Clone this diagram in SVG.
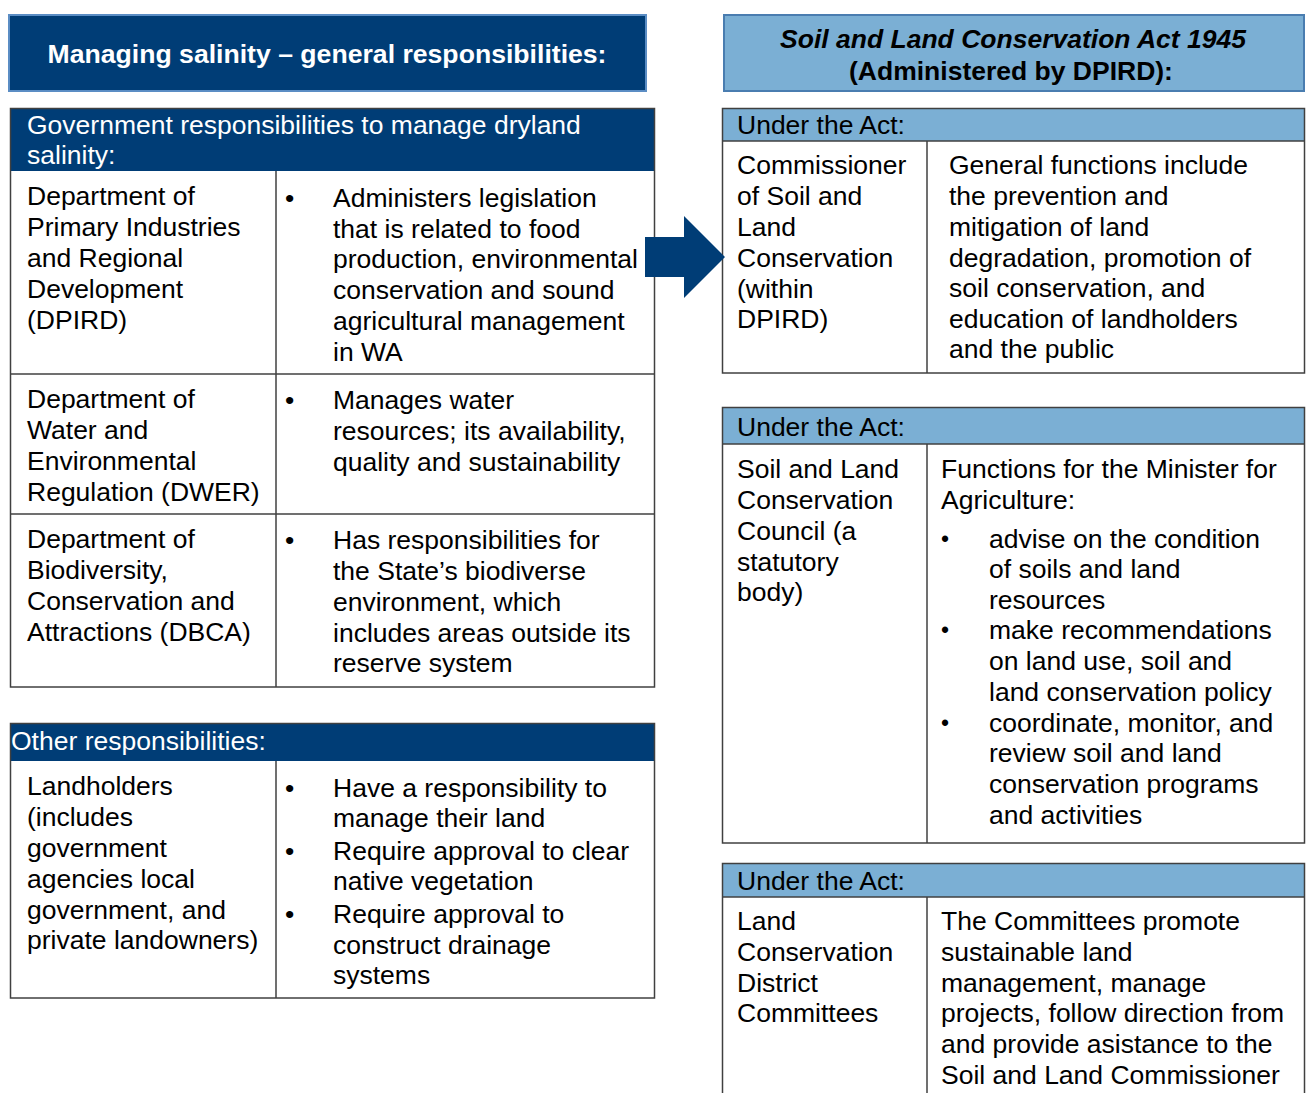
<svg xmlns="http://www.w3.org/2000/svg" width="1309" height="1093" viewBox="0 0 1309 1093">
  <style>
    text { font-family: "Liberation Sans", Arial, sans-serif; font-size: 26.5px; fill: #000; }
    .wh { fill: #fff; }
    .title { font-weight: bold; }
    .navy { fill: #003d76; }
    .sky { fill: #7bafd4; }
    .grid { fill: none; stroke: #404040; stroke-width: 1.5; }
    .sb { font-size: 23px; }
  </style>

  <rect width="1309" height="1093" fill="#fff"/>

  <!-- Left title banner -->
  <g id="title-left">
    <rect x="9" y="15" width="637" height="76" class="navy" stroke="#5b8dc4" stroke-width="2"/>
    <text x="327" y="63" text-anchor="middle" class="wh title" textLength="559" lengthAdjust="spacingAndGlyphs">Managing salinity – general responsibilities:</text>
  </g>

  <!-- Right title banner -->
  <g id="title-right">
    <rect x="724" y="15" width="580" height="76" class="sky" stroke="#4a7db0" stroke-width="2"/>
    <text x="1013" y="48" text-anchor="middle" class="title" font-style="italic">Soil and Land Conservation Act 1945</text>
    <text x="1011" y="80" text-anchor="middle" class="title">(Administered by DPIRD):</text>
  </g>

  <!-- Government responsibilities table -->
  <g id="table-government">
    <rect x="10.5" y="108.5" width="644" height="62.5" class="navy"/>
    <text x="27" y="134" class="wh">Government responsibilities to manage dryland</text>
    <text x="27" y="164" class="wh">salinity:</text>
    <rect x="10.5" y="108.5" width="644" height="578.5" class="grid"/>
    <line x1="276" y1="171" x2="276" y2="687" class="grid"/>
    <line x1="10.5" y1="374" x2="654.5" y2="374" class="grid"/>
    <line x1="10.5" y1="514" x2="654.5" y2="514" class="grid"/>

    <g id="row-dpird">
      <text x="27" y="205">Department of</text>
      <text x="27" y="236">Primary Industries</text>
      <text x="27" y="267">and Regional</text>
      <text x="27" y="298">Development</text>
      <text x="27" y="329">(DPIRD)</text>
      <text x="285" y="207">•</text>
      <text x="333" y="207">Administers legislation</text>
      <text x="333" y="238">that is related to food</text>
      <text x="333" y="268">production, environmental</text>
      <text x="333" y="299">conservation and sound</text>
      <text x="333" y="330">agricultural management</text>
      <text x="333" y="361">in WA</text>
    </g>

    <g id="row-dwer">
      <text x="27" y="408">Department of</text>
      <text x="27" y="439">Water and</text>
      <text x="27" y="470">Environmental</text>
      <text x="27" y="501">Regulation (DWER)</text>
      <text x="285" y="409">•</text>
      <text x="333" y="409">Manages water</text>
      <text x="333" y="440">resources; its availability,</text>
      <text x="333" y="471">quality and sustainability</text>
    </g>

    <g id="row-dbca">
      <text x="27" y="548">Department of</text>
      <text x="27" y="579">Biodiversity,</text>
      <text x="27" y="610">Conservation and</text>
      <text x="27" y="641">Attractions (DBCA)</text>
      <text x="285" y="549">•</text>
      <text x="333" y="549">Has responsibilities for</text>
      <text x="333" y="580">the State’s biodiverse</text>
      <text x="333" y="611">environment, which</text>
      <text x="333" y="642">includes areas outside its</text>
      <text x="333" y="672">reserve system</text>
    </g>
  </g>

  <!-- Other responsibilities table -->
  <g id="table-other">
    <rect x="10.5" y="723.5" width="644" height="37.5" class="navy"/>
    <text x="11" y="750" class="wh">Other responsibilities:</text>
    <rect x="10.5" y="723.5" width="644" height="274.5" class="grid"/>
    <line x1="276" y1="761" x2="276" y2="998" class="grid"/>

    <g id="row-landholders">
      <text x="27" y="795">Landholders</text>
      <text x="27" y="826">(includes</text>
      <text x="27" y="857">government</text>
      <text x="27" y="888">agencies local</text>
      <text x="27" y="919">government, and</text>
      <text x="27" y="949">private landowners)</text>
      <text x="285" y="797">•</text>
      <text x="333" y="797">Have a responsibility to</text>
      <text x="333" y="827">manage their land</text>
      <text x="285" y="860">•</text>
      <text x="333" y="860">Require approval to clear</text>
      <text x="333" y="890">native vegetation</text>
      <text x="285" y="923">•</text>
      <text x="333" y="923">Require approval to</text>
      <text x="333" y="954">construct drainage</text>
      <text x="333" y="984">systems</text>
    </g>
  </g>

  <!-- Commissioner table -->
  <g id="table-commissioner">
    <rect x="722.5" y="108.5" width="582" height="32.5" class="sky"/>
    <text x="737" y="134">Under the Act:</text>
    <rect x="722.5" y="108.5" width="582" height="264.5" class="grid"/>
    <line x1="722.5" y1="141" x2="1304.5" y2="141" class="grid"/>
    <line x1="927" y1="141" x2="927" y2="373" class="grid"/>
    <text x="737" y="174">Commissioner</text>
    <text x="737" y="205">of Soil and</text>
    <text x="737" y="236">Land</text>
    <text x="737" y="267">Conservation</text>
    <text x="737" y="298">(within</text>
    <text x="737" y="328">DPIRD)</text>
    <text x="949" y="174">General functions include</text>
    <text x="949" y="205">the prevention and</text>
    <text x="949" y="236">mitigation of land</text>
    <text x="949" y="267">degradation, promotion of</text>
    <text x="949" y="297">soil conservation, and</text>
    <text x="949" y="328">education of landholders</text>
    <text x="949" y="358">and the public</text>
  </g>

  <!-- Council table -->
  <g id="table-council">
    <rect x="722.5" y="407.5" width="582" height="36.5" class="sky"/>
    <text x="737" y="436">Under the Act:</text>
    <rect x="722.5" y="407.5" width="582" height="435.5" class="grid"/>
    <line x1="722.5" y1="444" x2="1304.5" y2="444" class="grid"/>
    <line x1="927" y1="444" x2="927" y2="843" class="grid"/>
    <text x="737" y="478">Soil and Land</text>
    <text x="737" y="509">Conservation</text>
    <text x="737" y="540">Council (a</text>
    <text x="737" y="571">statutory</text>
    <text x="737" y="601">body)</text>
    <text x="941" y="478">Functions for the Minister for</text>
    <text x="941" y="509">Agriculture:</text>
    <text x="941" y="547" class="sb">•</text>
    <text x="989" y="548">advise on the condition</text>
    <text x="989" y="578">of soils and land</text>
    <text x="989" y="609">resources</text>
    <text x="941" y="638" class="sb">•</text>
    <text x="989" y="639">make recommendations</text>
    <text x="989" y="670">on land use, soil and</text>
    <text x="989" y="701">land conservation policy</text>
    <text x="941" y="731" class="sb">•</text>
    <text x="989" y="732">coordinate, monitor, and</text>
    <text x="989" y="762">review soil and land</text>
    <text x="989" y="793">conservation programs</text>
    <text x="989" y="824">and activities</text>
  </g>

  <!-- District committees table (runs past the lower edge) -->
  <g id="table-committees">
    <rect x="722.5" y="863.5" width="582" height="33.5" class="sky"/>
    <text x="737" y="890">Under the Act:</text>
    <rect x="722.5" y="863.5" width="582" height="250" class="grid"/>
    <line x1="722.5" y1="897" x2="1304.5" y2="897" class="grid"/>
    <line x1="927" y1="897" x2="927" y2="1100" class="grid"/>
    <text x="737" y="930">Land</text>
    <text x="737" y="961">Conservation</text>
    <text x="737" y="992">District</text>
    <text x="737" y="1022">Committees</text>
    <text x="941" y="930">The Committees promote</text>
    <text x="941" y="961">sustainable land</text>
    <text x="941" y="992">management, manage</text>
    <text x="941" y="1022">projects, follow direction from</text>
    <text x="941" y="1053">and provide asistance to the</text>
    <text x="941" y="1084">Soil and Land Commissioner</text>
  </g>

  <!-- Connectors -->
  <g id="connectors">
    <polygon points="645,237 684,237 684,216 725,257 684,298 684,277 645,277" class="navy"/>
  </g>
</svg>
